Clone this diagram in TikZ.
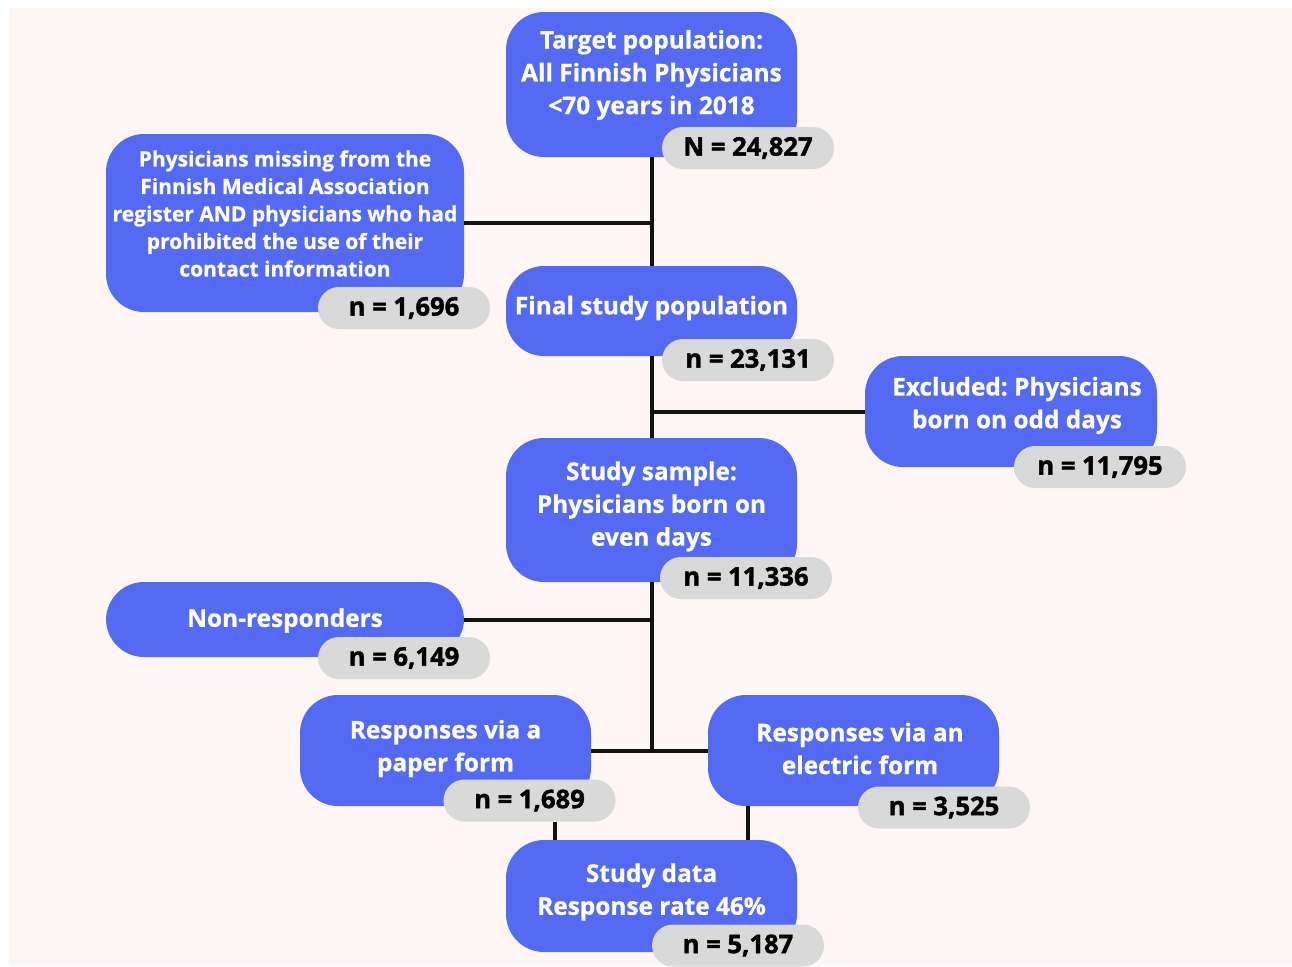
\documentclass[tikz,border=0pt]{standalone}
\usepackage{fontspec}
\setmainfont{Open Sans}[BoldFeatures={FakeBold=0.8}]
\newfontfamily\countfont{Open Sans}[BoldFeatures={FakeBold=1.5}]
\frenchspacing
\usepackage{tikz}
\usetikzlibrary{calc}
\definecolor{boxblue}{RGB}{84,106,242}
\definecolor{pillgray}{RGB}{217,217,217}
\definecolor{paperpink}{RGB}{253,246,244}
\tikzstyle{box}=[rectangle, fill=boxblue, rounded corners=19pt, minimum width=145.5pt, inner sep=0pt]
\tikzstyle{boxtext}=[text=white, align=center, inner sep=0pt, font=\bfseries\fontsize{12.2}{16.4}\selectfont]
\tikzstyle{count}=[rectangle, fill=pillgray, rounded corners=10.5pt, minimum width=86pt, minimum height=21pt, inner sep=0pt, font=\countfont\bfseries\fontsize{12.8}{15}\selectfont]
\tikzstyle{link}=[draw=black!93, line width=2pt]

\begin{document}
\begin{tikzpicture}[x=0.5pt, y=-0.5pt]
      %
      \fill[white] (0,0) rectangle (1292,966);
      \fill[paperpink] (9,8) rectangle (1292,966);
      \path[use as bounding box] (0,0) rectangle (1292,966);
      %
      % Target population
      %
      \node[box, minimum height=72.5pt,
        label={[boxtext, yshift=4.75pt]center:{Target population:\\ All Finnish Physicians\\ <70 years in 2018}}]
        (target) at (651.5,84.5) {};
      \node[count] (target-n) at (748,148) {N = 24,827};
      %
      % Missing / prohibited
      %
      \node[box, minimum width=179pt, minimum height=89pt,
        label={[boxtext, yshift=4.75pt, font=\bfseries\fontsize{10.5}{13.75}\selectfont]center:{Physicians missing from the\\ Finnish Medical Association\\ register AND physicians who had\\ prohibited the use of their\\ contact information}}]
        (missing) at (285,223) {};
      \node[count] (missing-n) at (404,308) {n = 1,696};
      %
      % Final study population
      %
      \node[box, minimum height=45pt,
        label={[boxtext, yshift=1.5pt]center:{Final study population}}]
        (final) at (651.5,311) {};
      \node[count] (final-n) at (748,360) {n = 23,131};
      %
      % Excluded
      %
      \node[box, minimum width=146pt, minimum height=55.5pt,
        label={[boxtext, yshift=3pt, xshift=3pt]center:{Excluded: Physicians\\ born on odd days}}]
        (excluded) at (1011,411.5) {};
      \node[count] (excluded-n) at (1100,467) {n = 11,795};
      %
      % Study sample
      %
      \node[box, minimum height=72pt,
        label={[boxtext, yshift=1.75pt]center:{Study sample:\\ Physicians born on\\ even days}}]
        (sample) at (651.5,510) {};
      \node[count] (sample-n) at (746,578) {n = 11,336};
      %
      % Non-responders
      %
      \node[box, minimum width=179pt, minimum height=37.5pt,
        label={[boxtext, yshift=-0.5pt]center:{Non-responders}}]
        (nonresp) at (285,619.5) {};
      \node[count] (nonresp-n) at (404,658) {n = 6,149};
      %
      % Paper and electric responses
      %
      \node[box, minimum height=55.5pt,
        label={[boxtext, yshift=1pt]center:{Responses via a\\ paper form}}]
        (paper) at (445.5,750.5) {};
      \node[count] (paper-n) at (529.5,800.5) {n = 1,689};
      \node[box, minimum height=55.5pt,
        label={[boxtext, yshift=1pt, xshift=3.25pt]center:{Responses via an\\ electric form}}]
        (electric) at (853.5,750.5) {};
      \node[count] (electric-n) at (944,807.5) {n = 3,525};
      %
      % Study data
      %
      \node[box, minimum height=56pt,
        label={[boxtext, yshift=2pt]center:{Study data\\ Response rate 46\%}}]
        (data) at (651.5,896) {};
      \node[count] (data-n) at (738,945.5) {n = 5,187};
      %
      % Connectors
      %
      \path[link] (target.south) -- (final.north);
      \path[link] (missing.east) -- (missing.east -| final.north);
      \path[link] (final.south) -- (sample.north);
      \path[link] (excluded.west) -- (excluded.west -| final.south);
      \path[link] (sample.south) -- (sample.south |- paper.east);
      \path[link] (nonresp.east) -- (nonresp.east -| sample.south);
      \path[link] (paper.east) -- (electric.west);
      \path[link] ([xshift=12.75pt]paper-n.south) -- ([xshift=12.75pt]paper-n.south |- data.north);
      \path[link] ([xshift=-52.75pt]electric.south) -- ([xshift=-52.75pt]electric.south |- data.north);
      %
\end{tikzpicture}
\end{document}
